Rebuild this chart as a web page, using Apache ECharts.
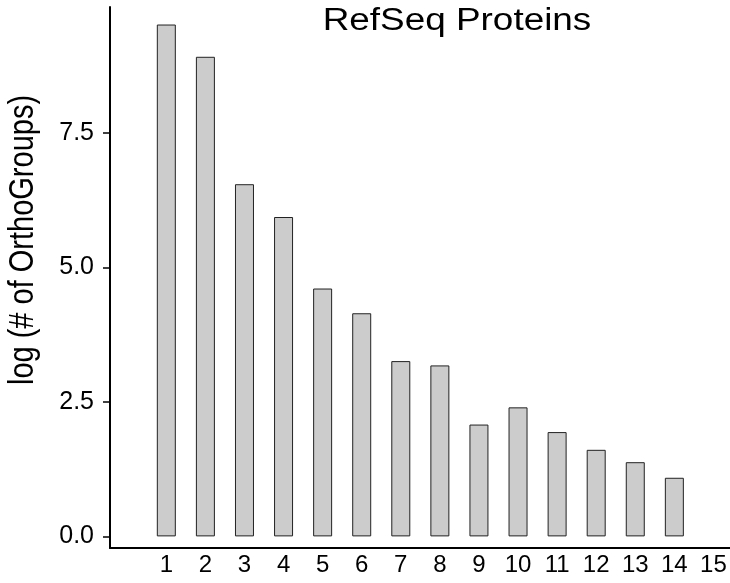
<!DOCTYPE html>
<html>
<head>
<meta charset="utf-8">
<script src="https://cdn.jsdelivr.net/npm/echarts@6/dist/echarts.min.js"></script>
<style>
html, body { margin: 0; padding: 0; background: #fff; }
#chart { width: 730px; height: 583px; }
</style>
</head>
<body>
<div id="chart"></div>
<script>
var categories = [1, 2, 3, 4, 5, 6, 7, 8, 9, 10, 11, 12, 13, 14, 15];
var logOrthoGroups = [9.52, 8.92, 6.55, 5.94, 4.61, 4.15, 3.26, 3.18, 2.08, 2.40, 1.94, 1.61, 1.38, 1.09, null];
var yTicks = [0, 2.5, 5.0, 7.5];
var titleText = 'RefSeq Proteins';
var yName = 'log (# of OrthoGroups)';

var font = '"Liberation Sans", Arial, Helvetica, sans-serif';
var chart = echarts.init(document.getElementById('chart'), null, { renderer: 'canvas' });

var barData = [];
for (var i = 0; i < categories.length; i++) {
  if (logOrthoGroups[i] !== null) barData.push([categories[i], logOrthoGroups[i]]);
}

chart.setOption({
  animation: false,
  backgroundColor: '#ffffff',
  grid: { left: 110, right: 0, top: 7, bottom: 35, containLabel: false },
  graphic: [
    {
      type: 'text',
      x: 457, y: 21,
      scaleX: 1.19,
      style: {
        text: titleText, fill: '#000', fontFamily: font, fontSize: 31,
        align: 'center', verticalAlign: 'middle'
      }
    },
    {
      type: 'text',
      x: 23, y: 240,
      rotation: Math.PI / 2,
      scaleY: 1.22,
      style: {
        text: yName, fill: '#000', fontFamily: font, fontSize: 29,
        align: 'center', verticalAlign: 'middle'
      }
    }
  ],
  xAxis: {
    type: 'value',
    min: -0.441,
    max: 15.424,
    splitLine: { show: false },
    axisLine: { show: true, onZero: false, lineStyle: { color: '#000', width: 2 } },
    axisTick: { show: false },
    axisLabel: {
      customValues: categories,
      color: '#000', fontFamily: font, fontSize: 24, margin: 5,
      formatter: function (v) { return String(v); }
    }
  },
  yAxis: {
    type: 'value',
    min: -0.216,
    max: 9.846,
    splitLine: { show: false },
    axisLine: { show: true, onZero: false, lineStyle: { color: '#000', width: 2 } },
    axisTick: { show: true, customValues: yTicks, length: 7, lineStyle: { color: '#000', width: 1.5 } },
    axisLabel: {
      customValues: yTicks,
      color: '#000', fontFamily: font, fontSize: 25, margin: 16,
      formatter: function (v) { return v.toFixed(1); }
    }
  },
  series: [{
    type: 'bar',
    data: barData,
    barWidth: 19,
    itemStyle: { color: '#cccccc', borderColor: '#222', borderWidth: 1 }
  }]
});
</script>
</body>
</html>
